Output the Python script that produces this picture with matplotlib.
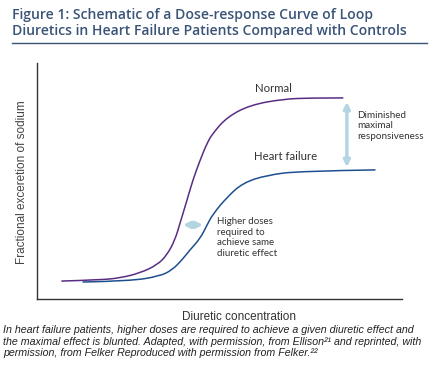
import matplotlib
matplotlib.use("Agg")
import matplotlib.pyplot as plt
from matplotlib.lines import Line2D
from matplotlib.path import Path
from matplotlib.patches import PathPatch

# ── DATA (schematic; x = concentration, y = response) ──
normal_x = [6.8, 17.3, 22.7, 28.2, 32.9, 35.6, 37.8, 39.2, 41.1, 42.7, 44.7,
            46.6, 48.2, 52.1, 58.4, 67.4, 74.8, 83.8]
normal_y = [7.6, 8.1, 8.9, 11.0, 14.4, 18.6, 25.0, 32.2, 41.9, 50.4, 58.9,
            66.1, 70.3, 77.1, 82.2, 84.7, 85.2, 85.2]

hf_x = [12.6, 25.5, 33.7, 37.0, 39.7, 41.9, 44.7, 46.6, 48.2, 52.1, 56.4,
        63.0, 72.1, 92.6]
hf_y = [7.2, 7.6, 9.7, 12.3, 16.5, 20.8, 25.6, 31.4, 36.0, 43.2, 49.2,
        52.5, 54.2, 54.7]

shift_arrow = (40.0, 45.5, 31.4)     # x start, x end, y
drop_arrow = (84.9, 83.5, 55.9)      # x, y top, y bottom

TITLE = ("Figure 1: Schematic of a Dose-response Curve of Loop\n"
         "Diuretics in Heart Failure Patients Compared with Controls")
CAPTION = ("In heart failure patients, higher doses are required to achieve a given diuretic effect and\n"
           "the maximal effect is blunted. Adapted, with permission, from Ellison\u00b2\u00b9 and reprinted, with\n"
           "permission, from Felker Reproduced with permission from Felker.\u00b2\u00b2")

NORMAL_C = "#5a2d84"
HF_C = "#1d4f8f"
ARROW_C = "#b3d5e1"
TITLE_C = "#3a5478"


def smooth_path(xs, ys):
    # quadratic bezier through segment midpoints, read points as control points
    pts = list(zip(xs, ys))
    verts = [pts[0]]
    codes = [Path.MOVETO]
    for i in range(1, len(pts) - 1):
        mid = ((pts[i][0] + pts[i + 1][0]) / 2, (pts[i][1] + pts[i + 1][1]) / 2)
        if i == len(pts) - 2:
            mid = pts[-1]
        verts += [pts[i], mid]
        codes += [Path.CURVE3, Path.CURVE3]
    return Path(verts, codes)


W, H = 435, 367
fig = plt.figure(figsize=(W / 100, H / 100), dpi=100)
ax = fig.add_axes([37 / W, (H - 299) / H, (402 - 37) / W, (299 - 63) / H])

ax.add_patch(PathPatch(smooth_path(normal_x, normal_y), facecolor="none",
                       edgecolor=NORMAL_C, lw=1.1, capstyle="round"))
ax.add_patch(PathPatch(smooth_path(hf_x, hf_y), facecolor="none",
                       edgecolor=HF_C, lw=1.1, capstyle="round"))

ax.annotate("", xy=(shift_arrow[1], shift_arrow[2]), xytext=(shift_arrow[0], shift_arrow[2]),
            arrowprops=dict(arrowstyle="<|-|>", color=ARROW_C, lw=2.5,
                            mutation_scale=9, shrinkA=0, shrinkB=0))
ax.annotate("", xy=(drop_arrow[0], drop_arrow[2]), xytext=(drop_arrow[0], drop_arrow[1]),
            arrowprops=dict(arrowstyle="<|-|>", color=ARROW_C, lw=2.5,
                            mutation_scale=9, shrinkA=0, shrinkB=0))

lab_font = ["Lato", "DejaVu Sans"]
ax.text(59.7, 89.0, "Normal", fontsize=8.2, color="#333333", family=lab_font,
        va="center", ha="left")
ax.text(59.5, 60.2, "Heart failure", fontsize=8.2, color="#333333", family=lab_font,
        va="center", ha="left")
ax.text(87.7, 79.8, "Diminished\nmaximal\nresponsiveness", fontsize=7.1,
        color="#333333", family=lab_font, va="top", ha="left", linespacing=1.25)
ax.text(49.3, 34.8, "Higher doses\nrequired to\nachieve same\ndiuretic effect",
        fontsize=7.0, color="#333333", family=lab_font, va="top", ha="left",
        linespacing=1.25)

ax.set_xlim(0, 100)
ax.set_ylim(0, 100)
ax.set_xticks([])
ax.set_yticks([])
for side in ("top", "right"):
    ax.spines[side].set_visible(False)
for side in ("left", "bottom"):
    ax.spines[side].set_color("#333333")
    ax.spines[side].set_linewidth(1.0)

fig.text(22 / W, 1 - 182 / H, "Fractional exceretion of sodium", rotation=90,
         fontsize=8.5, color="#444444", family=["Liberation Sans", "DejaVu Sans"],
         ha="center", va="center")
fig.text(239 / W, 1 - 317 / H, "Diuretic concentration", fontsize=8.5,
         color="#333333", family=["Liberation Sans", "DejaVu Sans"],
         ha="center", va="center")

fig.text(12 / W, 1 - 8 / H, TITLE, fontsize=10.05, fontweight="semibold",
         color=TITLE_C, family=["Open Sans", "DejaVu Sans"], ha="left", va="top",
         linespacing=1.22)
fig.add_artist(Line2D([12 / W, 427 / W], [1 - 43 / H, 1 - 43 / H],
                      color=TITLE_C, lw=1.0))

fig.text(3 / W, 1 - 325 / H, CAPTION, fontsize=7.65, style="italic",
         color="#222222", family=["Liberation Sans", "DejaVu Sans"],
         ha="left", va="top", linespacing=1.2)

fig.savefig("out.png", dpi=100)
